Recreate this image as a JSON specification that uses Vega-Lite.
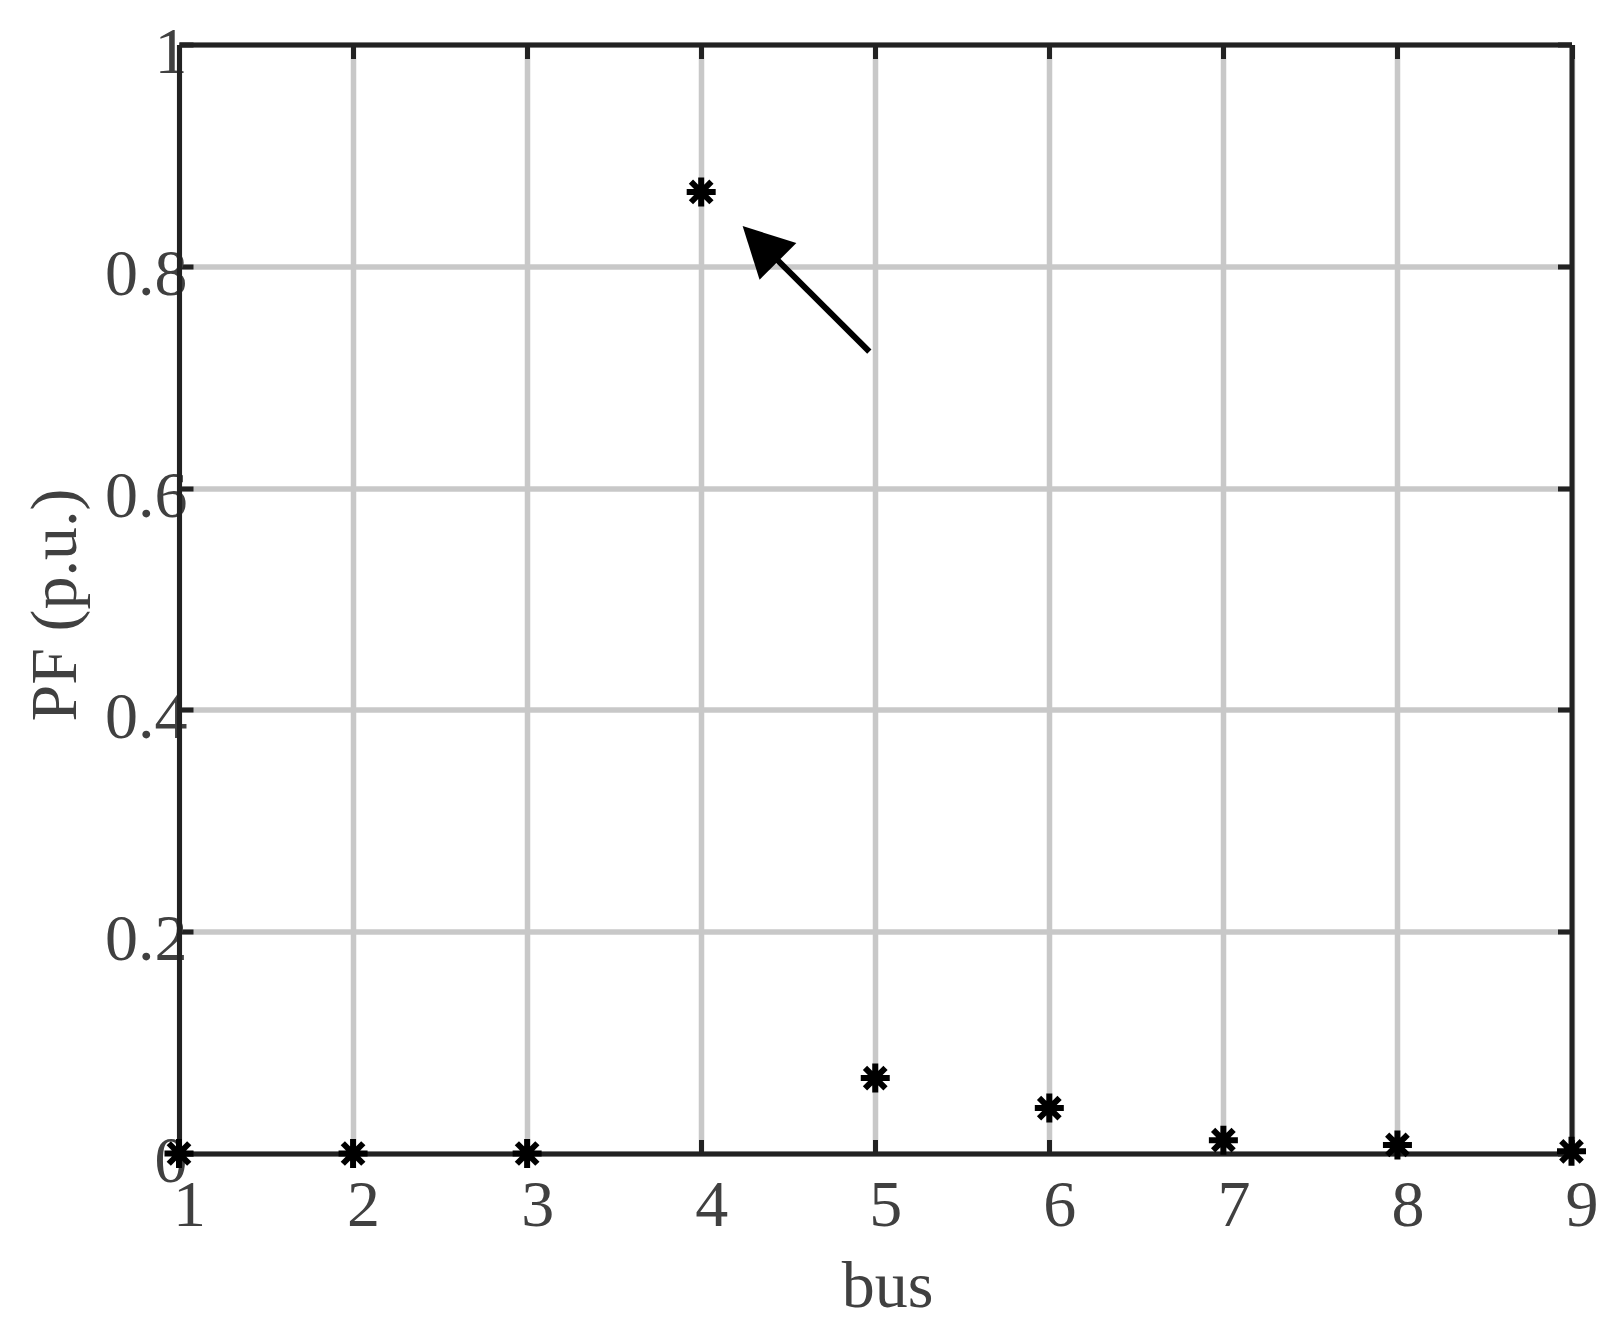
{
  "$schema": "https://vega.github.io/schema/vega-lite/v6.json",
  "autosize": "none",
  "width": 1392.5,
  "height": 1109,
  "padding": {"left": 179, "top": 44.5, "right": 44.5, "bottom": 175.5},
  "background": "white",
  "config": {"view": {"stroke": null}, "font": "Liberation Serif"},
  "datasets": {
    "points": [
      {"bus": 1, "pf": 0},
      {"bus": 2, "pf": 0},
      {"bus": 3, "pf": 0},
      {"bus": 4, "pf": 0.867},
      {"bus": 5, "pf": 0.068},
      {"bus": 6, "pf": 0.041},
      {"bus": 7, "pf": 0.012},
      {"bus": 8, "pf": 0.0077},
      {"bus": 9, "pf": 0.002}
    ],
    "arrow": [
      {"x": 4.966, "y": 0.723, "x2": 4.41, "y2": 0.81, "tx": 4.238, "ty": 0.8363}
    ]
  },
  "layer": [
    {
      "data": {"name": "points"},
      "mark": {"type": "point", "opacity": 0},
      "encoding": {
        "x": {"field": "bus", "type": "quantitative", "scale": {"domain": [1, 9], "nice": false, "zero": false},
          "axis": {"orient": "top", "values": [1,2,3,4,5,6,7,8,9], "labels": false, "title": null, "grid": false,
            "domainColor": "#222222", "domainWidth": 5, "tickColor": "#222222", "tickWidth": 5, "tickSize": -14}},
        "y": {"field": "pf", "type": "quantitative", "scale": {"domain": [0, 1], "nice": false},
          "axis": {"orient": "right", "values": [0, 0.2, 0.4, 0.6, 0.8, 1], "labels": false, "title": null, "grid": false,
            "domainColor": "#222222", "domainWidth": 5, "tickColor": "#222222", "tickWidth": 5, "tickSize": -14}}
      }
    },
    {
      "data": {"name": "points"},
      "mark": {"type": "point", "shape": "M-1,0L1,0M0,-1L0,1M-0.707,-0.707L0.707,0.707M-0.707,0.707L0.707,-0.707", "filled": false, "stroke": "#000000", "strokeWidth": 6, "size": 841, "opacity": 1},
      "encoding": {
        "x": {"field": "bus", "type": "quantitative", "scale": {"domain": [1, 9], "nice": false, "zero": false},
          "axis": {"orient": "bottom", "values": [1,2,3,4,5,6,7,8,9], "grid": true, "gridColor": "#c8c8c8", "gridWidth": 5.5,
            "domainColor": "#222222", "domainWidth": 5, "tickColor": "#222222", "tickWidth": 5, "tickSize": -14,
            "labelFont": "Liberation Serif", "labelFontSize": 66, "labelColor": "#404040", "labelPadding": 34, "labelOffset": 10, "labelFlush": false,
            "title": "bus", "titleFont": "Liberation Serif", "titleFontSize": 66, "titleFontWeight": "normal", "titleColor": "#404040",
            "titleX": 708, "titleY": 153, "titleBaseline": "alphabetic"}},
        "y": {"field": "pf", "type": "quantitative", "scale": {"domain": [0, 1], "nice": false},
          "axis": {"orient": "left", "values": [0, 0.2, 0.4, 0.6, 0.8, 1], "format": "~g", "grid": true, "gridColor": "#c8c8c8", "gridWidth": 5.5,
            "domainColor": "#222222", "domainWidth": 5, "tickColor": "#222222", "tickWidth": 5, "tickSize": -14,
            "labelFont": "Liberation Serif", "labelFontSize": 66, "labelColor": "#404040", "labelPadding": 6, "labelOffset": 8, "labelFlush": false,
            "title": "PF (p.u.)", "titleFont": "Liberation Serif", "titleFontSize": 66, "titleFontWeight": "normal", "titleColor": "#404040",
            "titleX": -124, "titleY": 560, "titleBaseline": "middle", "titleAngle": -90}}
      }
    },
    {
      "data": {"name": "arrow"},
      "mark": {"type": "rule", "stroke": "#000000", "strokeWidth": 6},
      "encoding": {
        "x": {"field": "x", "type": "quantitative", "axis": null},
        "y": {"field": "y", "type": "quantitative", "axis": null},
        "x2": {"field": "x2"},
        "y2": {"field": "y2"}
      }
    },
    {
      "data": {"name": "arrow"},
      "mark": {"type": "point", "shape": "M0,0L-0.52,1L0.52,1Z", "filled": true, "color": "#000000", "opacity": 1, "size": 10000, "angle": 315},
      "encoding": {
        "x": {"field": "tx", "type": "quantitative", "axis": null},
        "y": {"field": "ty", "type": "quantitative", "axis": null}
      }
    }
  ],
  "resolve": {"axis": {"x": "independent", "y": "independent"}}
}
